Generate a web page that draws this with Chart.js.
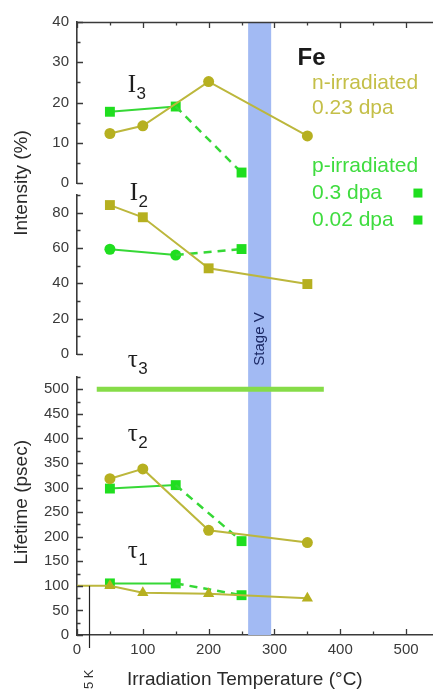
<!DOCTYPE html>
<html><head><meta charset="utf-8">
<style>
html,body{margin:0;padding:0;overflow:hidden;background:#fff;width:433px;height:690px}
#wrap{position:relative;width:446px;height:690px}
canvas{display:block}
</style>
<script src="https://cdn.jsdelivr.net/npm/chart.js@4.4.1/dist/chart.umd.min.js"></script>
</head><body><div id="wrap"><canvas id="c" width="446" height="690"></canvas></div>
<script>
// ---- data ----
const tempsN     = [50, 100, 200, 350];      // n-irradiated 0.23 dpa
const tempsP03   = [50, 150];                // p-irradiated 0.3 dpa
const tempsP002  = [150, 250];               // dashed link to p-irradiated 0.02 dpa
const tempsTau1N = [0, 50, 100, 200, 350];
const tempsTau3  = [30, 375];

const I3_n    = [12.3, 14.2, 25.2, 11.7];
const I3_p03  = [17.7, 19.0];
const I3_p002 = [19.0, 2.6];

const I2_n    = [84.3, 77.4, 48.5, 39.6];
const I2_p03  = [59.3, 56.0];
const I2_p002 = [56.0, 59.4];

const tau3_p    = [500, 500];
const tau2_n    = [318, 338, 213, 188];
const tau2_p03  = [298, 305];
const tau2_p002 = [305, 191];
const tau1_n    = [100, 100, 86, 84, 75];
const tau1_p03  = [105, 105];
const tau1_p002 = [105, 81];

const stageV = [260, 295];
const rtMark = 18;

// ---- styling ----
const YEL = '#b6b020', YEL_L = '#bcb73c', YEL_T = '#c4bf48';
const GRN = '#1fde1f', GRN_L = '#36d836', GRN_T = '#3fdc3f', TAU3 = '#86dc48';
const TICKC = '#3a3a3a', AX = '#3a3a3a';
const SANS = '"Liberation Sans", Arial, sans-serif';
const SERIF = '"Liberation Serif", "Times New Roman", serif';

const pts = (xs, ys) => xs.map((x, i) => ({x, y: ys[i]}));
function ds(xs, ys, axis, color, lineColor, style, r, extra) {
  return Object.assign({
    data: pts(xs, ys), yAxisID: axis, showLine: true,
    borderColor: lineColor, backgroundColor: color,
    pointBackgroundColor: color, pointBorderColor: color, pointBorderWidth: 0,
    pointStyle: style, pointRadius: r, borderWidth: 2, tension: 0
  }, extra || {});
}
const dash = {borderDash: [8, 6], borderWidth: 2.5};

const datasets = [
  // Intensity I3
  ds(tempsN, I3_n, 'yI3', YEL, YEL_L, 'circle', 5.5),
  ds(tempsP002, I3_p002, 'yI3', GRN, GRN_L, 'rect', [0, 7], dash),
  ds(tempsP03, I3_p03, 'yI3', GRN, GRN_L, 'rect', 7),
  // Intensity I2
  ds(tempsN, I2_n, 'yI2', YEL, YEL_L, 'rect', 7),
  ds(tempsP002, I2_p002, 'yI2', GRN, GRN_L, 'rect', [0, 7], dash),
  ds(tempsP03, I2_p03, 'yI2', GRN, GRN_L, 'circle', 5.5),
  // Lifetimes
  ds(tempsTau3, tau3_p, 'yL', TAU3, TAU3, 'circle', 0, {borderWidth: 5}),
  ds(tempsN, tau2_n, 'yL', YEL, YEL_L, 'circle', 5.5),
  ds(tempsP002, tau2_p002, 'yL', GRN, GRN_L, 'rect', [0, 7], dash),
  ds(tempsP03, tau2_p03, 'yL', GRN, GRN_L, 'rect', 7),
  ds(tempsTau1N, tau1_n, 'yL', YEL, YEL_L, 'triangle', [0, 6.5, 6.5, 6.5, 6.5]),
  ds(tempsP002, tau1_p002, 'yL', GRN, GRN_L, 'rect', [0, 7], dash),
  ds(tempsP03, tau1_p03, 'yL', GRN, GRN_L, 'rect', 7),
];

const tickFont = {family: SANS, size: 15};
function yAxis(min, max, step, labelEvery, weight, sw) {
  return {
    type: 'linear', position: 'left', stack: 'L', stackWeight: sw, weight: weight,
    min, max,
    grid: {display: true, drawOnChartArea: false, drawTicks: false},
    border: {display: true, color: AX, width: 1.6},
    ticks: {stepSize: step, font: tickFont, color: TICKC, padding: 8, autoSkip: false,
      callback: v => (Math.abs(v % labelEvery) < 1e-9 ? String(v) : '')},
    afterFit: s => { s.width = 77; }
  };
}
function spacer(weight, sw) {
  return {type: 'linear', position: 'left', stack: 'L', stackWeight: sw, weight: weight,
    min: 0, max: 1, display: false, afterFit: s => { s.width = 77; }};
}

function txt(ctx, s, x, y, font, color, align, base) {
  ctx.font = font; ctx.fillStyle = color;
  ctx.textAlign = align || 'left'; ctx.textBaseline = base || 'alphabetic';
  ctx.fillText(s, x, y);
}
function subLabel(ctx, main, sub, x, y) {
  txt(ctx, main, x, y, '25px ' + SERIF, '#1e1e1e');
  const w = ctx.measureText(main).width;
  txt(ctx, sub, x + w + 0.5, y + 7, '17px ' + SANS, '#1e1e1e');
}

const deco = {
  id: 'deco',
  beforeDatasetsDraw(chart) {
    const {ctx, chartArea: a, scales: {x}} = chart;
    const x1 = x.getPixelForValue(stageV[0]), x2 = x.getPixelForValue(stageV[1]);
    ctx.save();
    ctx.fillStyle = '#a2baf3';
    ctx.fillRect(x1, a.top, x2 - x1, a.bottom - a.top);
    ctx.restore();
  },
  afterDraw(chart) {
    const {ctx, chartArea: a, scales} = chart;
    const x = scales.x, y3 = scales.yI3, y2 = scales.yI2, yl = scales.yL;
    ctx.save();
    ctx.strokeStyle = AX; ctx.lineWidth = 1.3;
    // inward ticks on y axes (left and right)
    for (const s of [y3, y2, yl]) {
      for (const t of s.ticks) {
        const py = Math.round(s.getPixelForValue(t.value)) + 0.5;
        const len = t.label !== '' ? 6 : 3.5;
        ctx.beginPath();
        ctx.moveTo(a.left, py); ctx.lineTo(a.left + len, py);
        ctx.moveTo(a.right, py); ctx.lineTo(a.right - len, py);
        ctx.stroke();
      }
    }
    // top frame + inward x ticks
    ctx.lineWidth = 1.6;
    ctx.beginPath(); ctx.moveTo(a.left, a.top + 0.5); ctx.lineTo(a.right, a.top + 0.5); ctx.stroke();
    ctx.lineWidth = 1.3;
    for (const t of x.ticks) {
      const px = Math.round(x.getPixelForValue(t.value)) + 0.5;
      const len = t.label !== '' ? 6 : 3.5;
      ctx.beginPath();
      ctx.moveTo(px, a.bottom); ctx.lineTo(px, a.bottom - len);
      ctx.moveTo(px, a.top); ctx.lineTo(px, a.top + len);
      ctx.stroke();
    }
    // room-temperature marker
    const rx = Math.round(x.getPixelForValue(rtMark)) + 0.5;
    ctx.lineWidth = 1.2; ctx.strokeStyle = '#222';
    ctx.beginPath(); ctx.moveTo(rx, yl.getPixelForValue(100)); ctx.lineTo(rx, a.bottom + 13); ctx.stroke();
    ctx.save(); ctx.translate(rx, 689); ctx.rotate(-Math.PI / 2);
    txt(ctx, '5 K', 0, 0, '13px ' + SANS, '#333', 'left', 'middle');
    ctx.restore();

    // Stage V
    ctx.save();
    ctx.translate((x.getPixelForValue(stageV[0]) + x.getPixelForValue(stageV[1])) / 2, y2.getPixelForValue(8.5));
    ctx.rotate(-Math.PI / 2);
    txt(ctx, 'Stage V', 0, 0, '15px ' + SANS, '#1c2a66', 'center', 'middle');
    ctx.restore();

    // panel labels
    subLabel(ctx, 'I', '3', x.getPixelForValue(77), y3.getPixelForValue(22.6));
    subLabel(ctx, 'I', '2', x.getPixelForValue(80), y2.getPixelForValue(87));
    subLabel(ctx, 'τ', '3', x.getPixelForValue(77), yl.getPixelForValue(545));
    subLabel(ctx, 'τ', '2', x.getPixelForValue(77), yl.getPixelForValue(394));
    subLabel(ctx, 'τ', '1', x.getPixelForValue(77), yl.getPixelForValue(157));

    // legend block
    const lx = x.getPixelForValue(357);
    txt(ctx, 'Fe', x.getPixelForValue(335), y3.getPixelForValue(29.3), 'bold 24px ' + SANS, '#1a1a1a');
    txt(ctx, 'n-irradiated', lx, y3.getPixelForValue(24.8), '21px ' + SANS, YEL_T, 'left', 'middle');
    txt(ctx, '0.23 dpa', lx, y3.getPixelForValue(18.6), '21px ' + SANS, YEL_T, 'left', 'middle');
    txt(ctx, 'p-irradiated', lx, y3.getPixelForValue(4.2), '21px ' + SANS, GRN_T, 'left', 'middle');
    txt(ctx, '0.3 dpa', lx, y3.getPixelForValue(-2.5), '21px ' + SANS, GRN_T, 'left', 'middle');
    txt(ctx, '0.02 dpa', lx, y3.getPixelForValue(-9.2), '21px ' + SANS, GRN_T, 'left', 'middle');
    ctx.fillStyle = GRN;
    const sq = x.getPixelForValue(518);
    ctx.fillRect(sq - 4.5, y3.getPixelForValue(-2.5) - 4.5, 9, 9);
    ctx.fillRect(sq - 4.5, y3.getPixelForValue(-9.2) - 4.5, 9, 9);

    // axis titles
    ctx.save(); ctx.translate(22, y3.bottom); ctx.rotate(-Math.PI / 2);
    txt(ctx, 'Intensity (%)', 0, 0, '19px ' + SANS, '#2a2a2a', 'center', 'middle');
    ctx.restore();
    ctx.save(); ctx.translate(22, yl.getPixelForValue(270)); ctx.rotate(-Math.PI / 2);
    txt(ctx, 'Lifetime (psec)', 0, 0, '19px ' + SANS, '#2a2a2a', 'center', 'middle');
    ctx.restore();
    txt(ctx, 'Irradiation Temperature (°C)', x.getPixelForValue(255), 680, '19px ' + SANS, '#2a2a2a', 'center', 'middle');
    ctx.restore();
  }
};

new Chart(document.getElementById('c'), {
  type: 'scatter',
  data: {datasets},
  options: {
    responsive: false, animation: false, devicePixelRatio: 1,
    layout: {padding: {top: 22, right: 6, left: 0, bottom: 0}},
    plugins: {legend: {display: false}, tooltip: {enabled: false}},
    scales: {
      x: {type: 'linear', position: 'bottom', min: 0, max: 550,
        grid: {display: true, drawOnChartArea: false, drawTicks: false},
        border: {display: true, color: AX, width: 1.6},
        ticks: {stepSize: 50, font: tickFont, color: TICKC, padding: 6, autoSkip: false, maxRotation: 0,
          callback: v => (v % 100 === 0 && v <= 500 ? String(v) : '')},
        afterFit: s => { s.height = 55; }
      },
      yI3: yAxis(0, 40, 5, 10, 5, 161),
      gap1: spacer(4, 12),
      yI2: yAxis(0, 90, 10, 20, 3, 159),
      gap2: spacer(2, 23),
      yL: yAxis(0, 525, 25, 50, 1, 258)
    }
  },
  plugins: [deco]
});
</script>
</body></html>
